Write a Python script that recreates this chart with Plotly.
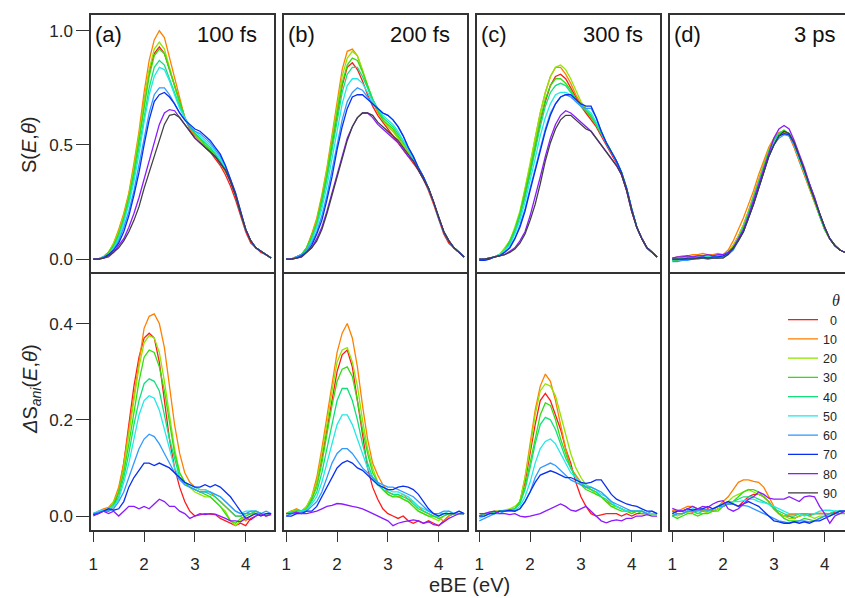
import plotly.graph_objects as go

W, H = 845, 598

# electron binding energy grid (eV)
ebe = [1.0, 1.1, 1.2, 1.3, 1.4, 1.5, 1.6, 1.7, 1.8, 1.9, 2.0, 2.1,
       2.2, 2.3, 2.4, 2.5, 2.6, 2.7, 2.8, 2.9, 3.0, 3.1, 3.2, 3.3,
       3.4, 3.5, 3.6, 3.7, 3.8, 3.9, 4.0, 4.1, 4.2, 4.3, 4.4, 4.5]

angles = [0, 10, 20, 30, 40, 50, 60, 70, 80, 90]
colors = ["#ff1a1a", "#ff8000", "#8fe600", "#33dd11", "#11e07a",
          "#22e8e8", "#3399ff", "#0a2ff0", "#8a1aff", "#404040"]
delays = ["100 fs", "200 fs", "300 fs", "3 ps"]
tags = ["(a)", "(b)", "(c)", "(d)"]

# S(E, theta), rows = angles 0..90
S_100fs = [
    [0, 0, .01, .03, .06, .12, .19, .28, .40, .53, .69, .82, .90, .93, .90, .83, .75, .68, .62, .57, .54, .52, .49, .47, .44, .41, .37, .32, .26, .19, .12, .07, .05, .03, .02, .005],
    [0, 0, .01, .03, .07, .13, .20, .29, .42, .56, .73, .87, .96, 1.0, .97, .88, .79, .70, .62, .57, .54, .52, .49, .47, .45, .42, .38, .34, .28, .20, .13, .08, .05, .035, .02, .005],
    [0, 0, .01, .03, .07, .12, .19, .28, .40, .54, .70, .83, .92, .95, .92, .84, .76, .68, .62, .58, .55, .52, .50, .48, .45, .42, .39, .34, .28, .20, .13, .08, .05, .035, .02, .005],
    [0, 0, .01, .03, .06, .11, .18, .27, .38, .52, .67, .80, .89, .92, .90, .83, .75, .68, .62, .58, .55, .53, .50, .48, .46, .43, .39, .34, .28, .20, .13, .08, .05, .035, .02, .005],
    [0, 0, .01, .02, .05, .10, .17, .25, .36, .49, .63, .75, .84, .87, .85, .79, .73, .67, .62, .58, .55, .53, .51, .49, .46, .43, .39, .34, .28, .20, .13, .08, .05, .035, .02, .005],
    [0, 0, .01, .02, .05, .09, .16, .24, .34, .46, .60, .72, .80, .84, .83, .78, .72, .66, .62, .58, .56, .54, .52, .50, .47, .44, .40, .35, .28, .20, .13, .08, .05, .035, .02, .005],
    [0, 0, .01, .02, .04, .08, .14, .21, .30, .41, .53, .64, .72, .75, .75, .72, .68, .64, .61, .58, .56, .55, .53, .51, .48, .45, .41, .35, .29, .21, .13, .08, .05, .035, .02, .005],
    [0, 0, .005, .02, .04, .07, .12, .19, .28, .38, .50, .61, .69, .72, .73, .71, .68, .64, .61, .59, .57, .56, .54, .52, .49, .46, .41, .35, .29, .21, .13, .08, .05, .035, .02, .005],
    [0, 0, .005, .01, .03, .06, .09, .14, .20, .27, .35, .44, .52, .59, .64, .655, .65, .62, .59, .56, .53, .51, .49, .47, .45, .42, .39, .34, .28, .20, .13, .08, .05, .035, .02, .005],
    [0, 0, .005, .015, .03, .05, .08, .12, .17, .23, .31, .38, .46, .53, .59, .63, .635, .62, .59, .56, .53, .51, .49, .47, .45, .42, .39, .34, .28, .20, .13, .08, .05, .035, .02, .005],
]
S_200fs = [
    [0, 0, .01, .02, .05, .10, .17, .26, .37, .50, .64, .76, .84, .86, .83, .78, .72, .67, .63, .60, .57, .54, .51, .48, .45, .42, .39, .35, .30, .24, .17, .11, .07, .05, .03, .01],
    [0, 0, .01, .02, .05, .11, .18, .28, .40, .55, .70, .83, .91, .92, .89, .82, .75, .69, .64, .61, .58, .56, .53, .50, .47, .44, .40, .36, .31, .25, .18, .12, .08, .05, .03, .01],
    [0, 0, .01, .02, .05, .10, .17, .27, .39, .53, .68, .80, .88, .91, .89, .83, .76, .70, .65, .61, .58, .56, .53, .50, .47, .44, .40, .36, .31, .25, .18, .12, .08, .05, .03, .01],
    [0, 0, .01, .02, .05, .10, .16, .26, .37, .51, .65, .77, .85, .88, .87, .82, .76, .70, .65, .61, .59, .57, .54, .51, .48, .44, .40, .36, .31, .25, .18, .12, .08, .05, .03, .01],
    [0, 0, .01, .02, .04, .09, .15, .24, .35, .48, .61, .73, .81, .84, .84, .80, .75, .70, .66, .62, .60, .58, .55, .52, .48, .44, .40, .36, .31, .25, .18, .12, .08, .05, .03, .01],
    [0, 0, .01, .02, .04, .08, .14, .22, .32, .44, .57, .68, .76, .79, .79, .77, .73, .69, .66, .63, .61, .59, .56, .52, .48, .44, .40, .36, .31, .25, .18, .12, .08, .05, .03, .01],
    [0, 0, .01, .02, .04, .07, .12, .19, .28, .39, .51, .61, .69, .73, .75, .74, .71, .68, .66, .64, .63, .61, .58, .54, .49, .45, .40, .36, .31, .25, .18, .12, .08, .05, .03, .01],
    [0, 0, .005, .015, .03, .06, .11, .17, .26, .36, .48, .58, .66, .71, .72, .72, .70, .68, .66, .64, .63, .61, .58, .54, .49, .45, .40, .36, .31, .25, .18, .12, .08, .05, .03, .01],
    [0, 0, .005, .01, .03, .05, .09, .14, .21, .29, .38, .46, .53, .58, .62, .64, .64, .62, .59, .57, .55, .53, .51, .48, .45, .43, .39, .35, .31, .25, .18, .12, .08, .05, .03, .01],
    [0, 0, .005, .01, .03, .05, .08, .13, .20, .28, .37, .45, .52, .58, .62, .64, .64, .63, .60, .58, .56, .54, .52, .49, .46, .43, .39, .35, .31, .25, .18, .12, .08, .05, .03, .01],
]
S_300fs = [
    [0, 0, .005, .01, .02, .04, .07, .12, .19, .28, .38, .49, .60, .69, .76, .80, .81, .79, .75, .71, .67, .64, .61, .58, .54, .50, .46, .42, .37, .30, .21, .14, .09, .05, .03, .01],
    [0, 0, .005, .01, .02, .04, .08, .13, .20, .30, .41, .53, .64, .73, .80, .84, .84, .81, .77, .72, .68, .65, .62, .59, .55, .51, .47, .43, .38, .31, .22, .14, .09, .05, .03, .01],
    [0, 0, .005, .01, .02, .05, .08, .14, .21, .31, .42, .53, .64, .73, .80, .84, .85, .83, .79, .74, .69, .66, .63, .59, .55, .51, .47, .43, .38, .31, .22, .14, .09, .05, .03, .01],
    [0, 0, .005, .01, .02, .04, .08, .13, .20, .29, .39, .50, .61, .70, .76, .79, .79, .77, .74, .70, .67, .65, .62, .59, .55, .51, .47, .43, .38, .31, .22, .14, .09, .05, .03, .01],
    [0, 0, .005, .01, .02, .04, .07, .12, .19, .27, .37, .48, .58, .67, .73, .76, .77, .76, .73, .70, .67, .65, .63, .59, .55, .51, .47, .43, .38, .31, .22, .14, .09, .05, .03, .01],
    [0, 0, .005, .01, .02, .04, .06, .11, .17, .25, .34, .44, .54, .62, .68, .72, .73, .73, .72, .69, .67, .66, .64, .60, .56, .51, .47, .43, .38, .31, .22, .14, .09, .05, .03, .01],
    [-.005, -.005, 0, .01, .015, .03, .05, .09, .15, .22, .31, .40, .49, .57, .64, .68, .71, .72, .71, .69, .67, .66, .66, .62, .56, .51, .47, .43, .38, .31, .22, .14, .09, .05, .03, .01],
    [-.005, -.005, 0, .01, .015, .03, .05, .09, .14, .21, .30, .39, .48, .56, .63, .68, .71, .72, .72, .70, .68, .67, .67, .62, .56, .51, .47, .43, .38, .31, .22, .14, .09, .05, .03, .01],
    [0, 0, .005, .01, .015, .02, .035, .05, .08, .12, .19, .27, .36, .45, .53, .59, .63, .65, .64, .62, .60, .58, .56, .53, .50, .47, .44, .41, .37, .30, .21, .14, .09, .05, .03, .01],
    [0, 0, .005, .01, .015, .02, .03, .045, .07, .11, .17, .24, .33, .43, .51, .57, .61, .63, .63, .61, .59, .57, .56, .53, .50, .47, .44, .41, .37, .30, .21, .14, .09, .05, .03, .01],
]
S_3ps = [
    [.005, .005, .01, .01, .01, .015, .015, .015, .01, .01, .01, .03, .06, .10, .15, .21, .28, .35, .42, .48, .52, .55, .555, .54, .49, .43, .37, .31, .25, .19, .13, .09, .06, .04, .03, .02],
    [.005, .01, .015, .015, .02, .02, .025, .02, .02, .025, .02, .04, .08, .13, .18, .24, .30, .37, .43, .49, .53, .555, .56, .54, .49, .43, .37, .31, .25, .19, .13, .09, .06, .04, .03, .02],
    [0, .005, .01, .01, .015, .015, .01, .015, .01, .015, .01, .03, .06, .10, .15, .21, .28, .35, .42, .48, .52, .55, .56, .545, .50, .44, .38, .31, .25, .19, .13, .09, .06, .04, .03, .02],
    [-.005, -.005, 0, 0, .005, .005, .005, .01, .005, .01, .01, .025, .05, .09, .14, .20, .27, .34, .41, .47, .52, .55, .565, .55, .50, .44, .38, .32, .26, .19, .13, .09, .06, .04, .03, .02],
    [-.005, 0, 0, .005, .005, .01, .005, .01, .01, .01, .015, .03, .05, .09, .14, .20, .27, .34, .41, .47, .52, .55, .56, .55, .50, .44, .38, .32, .26, .19, .13, .09, .06, .04, .03, .02],
    [0, 0, .005, .005, .01, .01, .01, .015, .01, .015, .02, .03, .05, .09, .13, .19, .26, .33, .40, .46, .51, .54, .55, .54, .50, .44, .38, .32, .26, .20, .14, .09, .06, .04, .03, .02],
    [-.01, -.01, -.005, -.005, 0, 0, .005, 0, .005, .005, .01, .02, .04, .08, .12, .18, .25, .32, .39, .45, .50, .53, .545, .54, .50, .45, .39, .33, .26, .20, .14, .09, .06, .04, .03, .02],
    [0, 0, 0, .005, .005, .005, .01, .005, .01, .01, .015, .025, .045, .08, .12, .18, .24, .31, .38, .45, .50, .54, .55, .545, .51, .45, .39, .33, .27, .20, .14, .09, .06, .04, .03, .02],
    [.005, .01, .01, .015, .01, .015, .015, .02, .015, .02, .02, .03, .05, .09, .13, .19, .26, .33, .40, .47, .53, .57, .585, .57, .52, .46, .40, .33, .27, .20, .14, .09, .06, .04, .03, .02],
    [0, 0, 0, 0, 0, .005, .005, .005, .005, .005, .005, .02, .05, .08, .12, .18, .24, .31, .38, .45, .50, .54, .56, .55, .51, .45, .39, .32, .26, .20, .14, .09, .06, .04, .03, .02],
]

# Delta S_ani(E, theta), rows = angles 0..80
dS_100fs = [
    [.003, .008, .012, .01, .02, .05, .11, .19, .27, .33, .37, .38, .37, .32, .24, .16, .10, .06, .03, .01, 0, .003, .005, .004, .003, -.005, -.01, -.015, -.02, -.015, -.02, -.005, 0, .005, 0, .003],
    [.005, .01, .015, .018, .03, .06, .11, .18, .25, .33, .39, .415, .42, .40, .35, .27, .19, .13, .09, .07, .06, .055, .055, .05, .04, .03, .02, .01, 0, 0, -.01, 0, .01, .005, .005, .005],
    [.005, .008, .012, .015, .03, .05, .10, .17, .24, .31, .36, .375, .37, .34, .28, .21, .14, .09, .07, .06, .05, .045, .04, .04, .03, .02, .01, -.01, -.02, -.01, 0, .005, .01, .005, .005, .005],
    [.005, .008, .01, .015, .025, .05, .09, .15, .22, .28, .33, .345, .34, .31, .26, .19, .13, .09, .07, .06, .055, .05, .045, .04, .03, .02, .005, -.01, -.015, -.005, 0, .005, .005, .005, .005, .005],
    [.005, .008, .01, .012, .02, .04, .08, .13, .19, .24, .275, .285, .28, .26, .21, .16, .12, .08, .065, .06, .055, .05, .05, .045, .04, .03, .02, .01, 0, 0, .005, .005, .01, .005, .005, .005],
    [.005, .01, .012, .015, .02, .035, .07, .11, .16, .21, .24, .25, .245, .22, .18, .14, .10, .08, .07, .065, .06, .055, .055, .05, .045, .04, .03, .02, .01, .005, .01, .01, .01, .005, .005, .005],
    [.005, .008, .01, .01, .015, .03, .05, .08, .11, .14, .16, .17, .165, .15, .13, .11, .09, .075, .065, .06, .055, .05, .05, .05, .045, .04, .03, .02, .01, .005, .005, .01, .01, .005, .01, .005],
    [.003, .005, .01, .015, .012, .015, .03, .06, .08, .095, .11, .11, .105, .11, .105, .10, .09, .08, .07, .065, .06, .06, .065, .06, .065, .06, .05, .04, .025, .01, -.005, 0, .005, 0, .005, .005],
    [0, .005, .01, .005, .01, 0, .01, .02, .02, .015, .02, .015, .025, .035, .03, .02, .02, .01, .005, -.005, 0, .005, .003, .005, .004, 0, -.005, -.01, -.01, -.012, -.005, -.008, 0, .005, 0, .004],
]
dS_200fs = [
    [.005, .01, .012, .01, .015, .035, .07, .12, .18, .24, .30, .335, .345, .31, .24, .16, .10, .06, .035, .015, .005, 0, -.005, 0, -.01, -.015, -.01, -.015, -.01, -.015, -.02, -.01, 0, .005, .005, .005],
    [.005, .01, .015, .01, .02, .04, .08, .14, .21, .28, .34, .38, .40, .37, .31, .23, .16, .11, .085, .065, .05, .045, .04, .045, .035, .03, .02, .01, .005, 0, -.005, -.01, 0, .005, .005, .005],
    [.005, .01, .012, .01, .02, .04, .07, .13, .19, .26, .32, .345, .35, .32, .27, .20, .14, .10, .07, .055, .045, .04, .045, .035, .03, .02, .01, .005, 0, -.005, -.01, 0, .005, .005, .005, .005],
    [.005, .008, .01, .01, .015, .035, .06, .11, .17, .23, .28, .305, .31, .29, .24, .18, .13, .09, .07, .055, .045, .04, .04, .035, .03, .02, .01, .005, 0, 0, -.005, 0, .005, .005, .005, .005],
    [.005, .008, .01, .01, .015, .03, .05, .09, .14, .19, .24, .265, .265, .24, .20, .15, .11, .08, .065, .055, .05, .045, .045, .04, .035, .025, .015, .01, .005, 0, 0, .005, .005, .005, .005, .005],
    [0, .005, .008, .01, .012, .025, .04, .07, .11, .15, .19, .21, .21, .19, .16, .13, .10, .08, .065, .06, .055, .05, .05, .045, .04, .03, .02, .015, .01, .005, .005, .005, .01, .005, .005, .005],
    [0, .005, .005, .008, .01, .02, .03, .05, .08, .11, .13, .14, .14, .13, .115, .10, .09, .08, .07, .065, .06, .06, .055, .05, .045, .04, .03, .02, .01, .005, .005, .01, .01, .005, .01, .005],
    [0, 0, .005, .005, .01, .01, .02, .04, .06, .08, .10, .11, .115, .11, .10, .095, .085, .075, .065, .06, .055, .055, .06, .062, .06, .055, .045, .03, .015, .005, 0, .005, .005, .005, .01, .005],
    [.005, .005, .008, .005, .005, .008, .01, .015, .02, .022, .026, .025, .022, .02, .018, .015, .01, .005, 0, -.005, -.01, -.02, -.015, -.012, -.01, -.008, -.01, -.015, -.012, -.018, -.02, -.012, -.005, 0, .005, .005],
]
dS_300fs = [
    [0, .005, .005, .008, .01, .01, .012, .015, .03, .07, .13, .19, .24, .255, .24, .21, .18, .14, .11, .07, .04, .02, .005, 0, .003, .005, .005, .005, 0, .005, 0, .005, .005, .005, .005, .005],
    [0, .005, .005, .01, .01, .01, .012, .015, .03, .08, .15, .22, .27, .295, .28, .24, .19, .14, .10, .085, .07, .06, .055, .05, .04, .03, .025, .02, .015, .01, .01, .01, .01, .005, .005, .005],
    [0, .005, .008, .01, .01, .012, .015, .02, .03, .08, .14, .21, .26, .275, .27, .25, .21, .17, .13, .10, .08, .065, .055, .045, .04, .03, .02, .02, .015, .01, .005, .01, .01, .005, .005, .005],
    [0, .005, .005, .008, .01, .01, .012, .015, .03, .06, .11, .16, .21, .235, .23, .20, .16, .13, .10, .08, .065, .055, .05, .045, .04, .03, .02, .015, .01, .01, .005, .01, .005, .005, .005, .005],
    [0, .005, .005, .008, .01, .01, .012, .015, .025, .055, .10, .15, .19, .205, .20, .18, .15, .12, .10, .08, .07, .06, .055, .05, .04, .035, .025, .02, .015, .01, .01, .01, .01, .005, .005, .005],
    [-.005, 0, .005, .005, .01, .01, .01, .012, .02, .04, .07, .11, .14, .155, .16, .15, .13, .11, .09, .08, .07, .065, .06, .055, .045, .04, .03, .02, .015, .01, .01, .01, .01, .005, .005, .005],
    [-.01, -.005, 0, .005, .005, .01, .01, .01, .015, .03, .05, .08, .10, .105, .11, .105, .095, .085, .075, .07, .065, .06, .06, .055, .05, .04, .03, .025, .02, .015, .01, .01, .01, .005, .01, .005],
    [0, 0, .005, .005, .01, .01, .012, .01, .015, .03, .05, .07, .085, .09, .094, .09, .085, .08, .08, .075, .07, .068, .07, .075, .075, .06, .045, .035, .03, .025, .022, .02, .015, .01, .01, .005],
    [.005, .005, .008, .01, .005, .005, .003, .005, 0, -.002, 0, .003, .005, .01, .015, .02, .025, .02, .012, .01, .015, .02, .01, 0, -.01, -.014, -.01, -.008, -.01, -.005, -.005, 0, 0, .003, 0, 0],
]
dS_3ps = [
    [.01, .005, .005, .01, .008, .012, .01, .015, .01, .015, .02, .025, .025, .02, .03, .04, .045, .045, .04, .03, .015, .005, 0, 0, -.005, 0, .003, .003, .005, .005, .005, .005, .008, .01, .01, .01],
    [.012, .01, .015, .02, .02, .015, .012, .01, .015, .02, .03, .04, .055, .07, .075, .075, .072, .07, .06, .04, .02, .005, 0, .003, .003, .005, .005, .004, .005, .006, .005, .005, .005, .01, .01, .01],
    [.005, 0, .005, .008, .01, .005, .005, .008, .01, .015, .02, .03, .04, .045, .05, .055, .05, .045, .04, .03, .015, .005, 0, -.005, -.005, 0, .003, 0, -.005, 0, 0, .005, .005, .005, .01, .01],
    [0, -.005, 0, .005, .005, 0, .005, .005, .01, .01, .02, .025, .03, .04, .05, .055, .055, .05, .04, .03, .015, .005, -.005, -.01, -.01, -.01, -.005, -.008, -.01, -.005, 0, 0, .005, .005, .005, .005],
    [0, .005, .005, .01, .01, .005, .01, .01, .015, .02, .025, .03, .03, .035, .04, .04, .04, .035, .03, .025, .015, .01, .005, 0, 0, .005, .005, 0, .005, .005, .005, .005, .01, .01, .01, .01],
    [.005, .01, .01, .01, .015, .012, .015, .012, .015, .02, .025, .03, .03, .03, .032, .035, .035, .03, .028, .025, .02, .015, .01, .005, .005, .005, 0, .005, .005, .01, .012, .012, .01, .01, .01, .01],
    [0, .005, .005, .01, .01, .01, .015, .012, .015, .02, .02, .025, .025, .02, .022, .02, .015, .01, .005, 0, -.005, -.01, -.012, -.015, -.012, -.01, -.01, -.012, -.01, -.005, 0, .005, .005, .01, .01, .01],
    [.005, .01, .01, .015, .012, .015, .015, .02, .015, .02, .025, .03, .025, .02, .025, .03, .025, .02, .01, 0, -.01, -.012, -.015, -.015, -.012, -.015, -.012, -.015, -.01, -.01, -.005, 0, .005, .01, .01, .01],
    [.016, .012, .01, .015, .02, .015, .02, .018, .025, .03, .032, .015, .01, .015, .025, .035, .04, .05, .045, .037, .035, .035, .035, .04, .035, .03, .04, .042, .04, .02, .005, -.015, 0, .005, .01, .01],
]

top_rows = [S_100fs, S_200fs, S_300fs, S_3ps]
bot_rows = [dS_100fs, dS_200fs, dS_300fs, dS_3ps]

# panel edges in page pixels; the last panel runs off the right edge
lefts = [91, 284, 477, 670]
rights = [274, 467, 660, 845]
top_y = [15, 272]
bot_y = [273.5, 529.5]


def px_x(p):
    return p / W


def px_y(p):
    return 1 - p / H


FONT = "Liberation Sans, Arial, sans-serif"
INK = "#262626"

fig = go.Figure()

for c in range(4):
    for k, ang in enumerate(angles):
        lab = ("\u2007" + str(ang)) if ang < 10 else str(ang)
        fig.add_trace(go.Scatter(x=ebe, y=top_rows[c][k], mode="lines",
                                 xaxis="x%d" % (c + 1), yaxis="y%d" % (c + 1),
                                 line=dict(color=colors[k], width=1.3),
                                 name=lab, legendgroup=str(ang),
                                 showlegend=(c == 0)))
    for k, row in enumerate(bot_rows[c]):
        fig.add_trace(go.Scatter(x=ebe, y=row, mode="lines",
                                 xaxis="x%d" % (c + 5), yaxis="y%d" % (c + 5),
                                 line=dict(color=colors[k], width=1.3),
                                 legendgroup=str(angles[k]), showlegend=False))

frame = dict(showline=True, mirror=True, linecolor="#333333", linewidth=1.5,
             showgrid=False, zeroline=False, automargin=False,
             tickfont=dict(size=17, color=INK, family=FONT),
             tickcolor="#333333", tickwidth=1.4)

lay = {}
for c in range(4):
    xr = [0.955, 4.557] if c < 3 else [0.955, 4.40]
    dom = [lefts[c] / W, rights[c] / W]
    lay["xaxis%d" % (c + 1)] = dict(frame, domain=dom, range=xr, anchor="y%d" % (c + 1),
                                    showticklabels=False, ticks="")
    lay["xaxis%d" % (c + 5)] = dict(frame, domain=dom, range=xr, anchor="y%d" % (c + 5),
                                    ticks="outside", ticklen=11, ticklabelstandoff=7,
                                    tickvals=[1, 2, 3, 4])
    ya = dict(frame, domain=[1 - top_y[1] / H, 1 - top_y[0] / H],
              range=[-0.056, 1.069], anchor="x%d" % (c + 1))
    yb = dict(frame, domain=[1 - bot_y[1] / H, 1 - bot_y[0] / H],
              range=[-0.028, 0.504], anchor="x%d" % (c + 5))
    if c == 0:
        ya.update(ticks="outside", ticklen=13, tickvals=[0, 0.5, 1.0],
                  ticktext=["0.0", "0.5", "1.0"])
        yb.update(ticks="outside", ticklen=13, tickvals=[0, 0.2, 0.4],
                  ticktext=["0.0", "0.2", "0.4"])
    else:
        ya.update(ticks="", showticklabels=False)
        yb.update(ticks="", showticklabels=False)
    lay["yaxis%d" % (c + 1)] = ya
    lay["yaxis%d" % (c + 5)] = yb

ann = []
for c in range(4):
    ann.append(dict(text=tags[c], x=px_x(91 + 193 * c + 2), y=px_y(35), xref="paper", yref="paper",
                    xanchor="left", yanchor="middle", showarrow=False,
                    font=dict(size=22, color="#111111", family=FONT)))
    ann.append(dict(text=delays[c], x=px_x(274 + 193 * c - 15), y=px_y(35), xref="paper", yref="paper",
                    xanchor="right", yanchor="middle", showarrow=False,
                    font=dict(size=22, color="#111111", family=FONT)))

ann.append(dict(text="S(<i>E</i>,<i>θ</i>)", x=px_x(29), y=px_y(145),
                xref="paper", yref="paper", textangle=-90, showarrow=False,
                xanchor="center", yanchor="middle",
                font=dict(size=20, color=INK, family=FONT)))
ann.append(dict(text="<i>Δ</i>S<sub><i>ani</i></sub>(<i>E</i>,<i>θ</i>)", x=px_x(31), y=px_y(389),
                xref="paper", yref="paper", textangle=-90, showarrow=False,
                xanchor="center", yanchor="middle",
                font=dict(size=20, color=INK, family=FONT)))
ann.append(dict(text="eBE (eV)", x=px_x(470), y=px_y(585),
                xref="paper", yref="paper", showarrow=False,
                xanchor="center", yanchor="middle",
                font=dict(size=20, color=INK, family=FONT)))
ann.append(dict(text="<i>θ</i>", x=px_x(842), y=px_y(300),
                xref="paper", yref="paper", showarrow=False,
                xanchor="right", yanchor="middle",
                font=dict(size=16, color=INK, family="Liberation Serif, serif")))

fig.update_layout(
    width=W, height=H,
    margin=dict(l=0, r=0, t=0, b=0),
    paper_bgcolor="white", plot_bgcolor="white",
    font=dict(family=FONT, color=INK),
    showlegend=True,
    legend=dict(x=px_x(783), y=px_y(305), xanchor="left", yanchor="top",
                bgcolor="rgba(0,0,0,0)", font=dict(size=12.5, color=INK, family=FONT),
                tracegroupgap=0, itemwidth=30),
    annotations=ann,
    **lay
)

# drop the default page margin so the figure fills the window exactly
fig.write_html("out.html", config={"displayModeBar": False},
               post_script="document.body.style.margin='0';"
                           "document.body.style.overflow='hidden';")
